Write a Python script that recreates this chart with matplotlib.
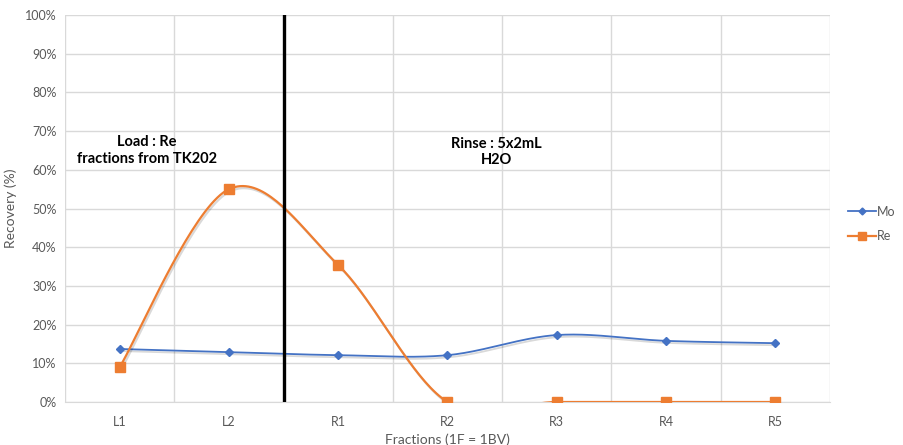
import numpy as np
import matplotlib.pyplot as plt
import matplotlib.patheffects as pe

# data
fractions = ['L1', 'L2', 'R1', 'R2', 'R3', 'R4', 'R5']
mo_recovery = [13.7, 12.9, 12.1, 12.1, 17.3, 15.8, 15.2]
re_recovery = [9.0, 55.0, 35.4, 0.0, 0.0, 0.0, 0.0]
load_rinse_split = 1.5

plt.rcParams['font.family'] = ['Lato', 'DejaVu Sans']


def smooth(x, y, sx, sy, n=40):
    # excel-like smoothed line: bezier through points, control points from neighbours
    px = np.asarray(x, float) * sx
    py = np.asarray(y, float) * sy
    out_x, out_y = [], []
    t = np.linspace(0, 1, n)
    for i in range(len(px) - 1):
        p0 = np.array([px[max(i - 1, 0)], py[max(i - 1, 0)]])
        p1 = np.array([px[i], py[i]])
        p2 = np.array([px[i + 1], py[i + 1]])
        p3 = np.array([px[min(i + 2, len(px) - 1)], py[min(i + 2, len(px) - 1)]])
        c1 = p1 + (p2 - p0) / 6.0
        c2 = p2 - (p3 - p1) / 6.0
        seg = ((1 - t) ** 3)[:, None] * p1 + (3 * (1 - t) ** 2 * t)[:, None] * c1 \
            + (3 * (1 - t) * t ** 2)[:, None] * c2 + (t ** 3)[:, None] * p2
        out_x.extend(seg[:, 0])
        out_y.extend(seg[:, 1])
    return np.array(out_x) / sx, np.array(out_y) / sy


fig = plt.figure(figsize=(9.04, 4.45), dpi=100)
ax = fig.add_axes([65 / 904, 1 - 402 / 445, 765 / 904, 387 / 445])

xpos = np.arange(len(fractions))
# pixel scale, so the smoothing matches screen space
sx, sy = 109.3, 3.87
shadow = [pe.SimpleLineShadow(offset=(1, -1.5), alpha=0.15, shadow_color='black'), pe.Normal()]

mx, my = smooth(xpos, mo_recovery, sx, sy)
ax.plot(mx, my, color='#4472C4', lw=1.3, path_effects=shadow, zorder=4)
ax.plot(xpos, mo_recovery, 'D', color='#4472C4', ms=4, zorder=5, label='Mo')

rx, ry = smooth(xpos, re_recovery, sx, sy)
ax.plot(rx, ry, color='#ED7D31', lw=1.6, path_effects=shadow, zorder=4)
ax.plot(xpos, re_recovery, 's', color='#ED7D31', ms=6.5, zorder=5, label='Re')

ax.axvline(load_rinse_split, color='black', lw=2.4, zorder=6)

ax.set_xlim(-0.5, len(fractions) - 0.5)
ax.set_ylim(0, 100)
ax.set_yticks(np.arange(0, 101, 10))
ax.set_yticklabels([f'{v}%' for v in range(0, 101, 10)])
ax.set_xticks(xpos)
ax.set_xticklabels(fractions)
ax.set_xticks(np.arange(-0.5, len(fractions), 1), minor=True)
ax.grid(axis='y', color='#D9D9D9', lw=1)
ax.grid(axis='x', which='minor', color='#D9D9D9', lw=1)
ax.set_axisbelow(True)
ax.tick_params(which='both', length=0, labelsize=9, colors='#595959', pad=10)
ax.tick_params(axis='y', pad=6)
for s in ['top', 'right', 'left']:
    ax.spines[s].set_visible(False)
ax.spines['bottom'].set_color('#D9D9D9')

ax.set_xlabel('Fractions (1F = 1BV)', fontsize=10, color='#595959', labelpad=4)
ax.set_ylabel('Recovery (%)', fontsize=10, color='#595959', labelpad=6)

ax.text(0.25, 65, 'Load : Re\nfractions from TK202', ha='center', va='center',
        fontsize=10.5, fontweight='bold', linespacing=1.2)
ax.text(3.45, 64.5, 'Rinse : 5x2mL\nH2O', ha='center', va='center',
        fontsize=10.5, fontweight='bold', linespacing=1.2)

leg_handles = [
    plt.Line2D([], [], color='#4472C4', marker='D', ms=3.5, lw=1.3),
    plt.Line2D([], [], color='#ED7D31', marker='s', ms=6, lw=1.6),
]
fig.legend(leg_handles, ['Mo', 'Re'], loc='center left', bbox_to_anchor=(846 / 904, 1 - 224 / 445),
           frameon=False, fontsize=9, labelcolor='#595959', handlelength=2.2,
           handletextpad=0.1, labelspacing=1.0, borderpad=0.2, borderaxespad=0)

fig.savefig('out.png', dpi=100)
